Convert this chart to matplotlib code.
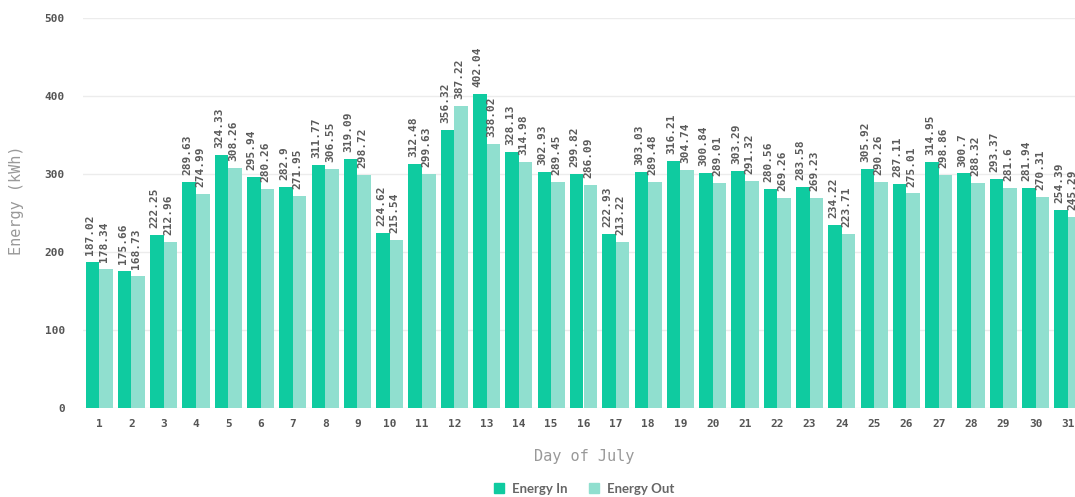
import matplotlib
matplotlib.use("Agg")
import matplotlib.pyplot as plt
from matplotlib.patches import Patch

# datos: energia diaria de julio
dias = list(range(1, 32))
energia_in = [187.02, 175.66, 222.25, 289.63, 324.33, 295.94, 282.9, 311.77, 319.09, 224.62,
              312.48, 356.32, 402.04, 328.13, 302.93, 299.82, 222.93, 303.03, 316.21, 300.84,
              303.29, 280.56, 283.58, 234.22, 305.92, 287.11, 314.95, 300.7, 293.37, 281.94,
              254.39]
energia_out = [178.34, 168.73, 212.96, 274.99, 308.26, 280.26, 271.95, 306.55, 298.72, 215.54,
               299.63, 387.22, 338.02, 314.98, 289.45, 286.09, 213.22, 289.48, 304.74, 289.01,
               291.32, 269.26, 269.23, 223.71, 290.26, 275.01, 298.86, 288.32, 281.6, 270.31,
               245.29]
y_ticks = [0, 100, 200, 300, 400, 500]

color_in = "#0fcba0"
color_out = "#90dfcf"
mono = "DejaVu Sans Mono"

W, H = 1075, 497
fig = plt.figure(figsize=(W / 100, H / 100), dpi=100)
ax = fig.add_axes([83 / W, (H - 408) / H, 1001 / W, 390 / H])

ancho = 0.42
x_in = [d - ancho / 2 for d in dias]
x_out = [d + ancho / 2 for d in dias]
ax.bar(x_in, energia_in, width=ancho, color=color_in, zorder=2)
ax.bar(x_out, energia_out, width=ancho, color=color_out, zorder=2)

# etiquetas de valores rotadas
for xs, vals in ((x_in, energia_in), (x_out, energia_out)):
    for x, v in zip(xs, vals):
        ax.annotate(f"{v:g}", xy=(x, v), xytext=(-1.5, 5), textcoords="offset points",
                    rotation=90, ha="center", va="bottom", fontsize=8, family=mono,
                    fontweight="bold", color="#5a5a5a", zorder=3)

ax.set_xlim(0.5, 31.5)
ax.set_ylim(0, 500)
ax.set_yticks(y_ticks)
ax.set_xticks(dias)
ax.set_xticklabels([str(d) for d in dias])
ax.tick_params(axis="both", length=0, labelsize=8, labelcolor="#555555")
ax.tick_params(axis="y", pad=13)
ax.tick_params(axis="x", pad=8)
for lab in ax.get_xticklabels() + ax.get_yticklabels():
    lab.set_family(mono)
    lab.set_fontweight("bold")

ax.grid(True, axis="y", color="#ececec", linewidth=1, zorder=0)
for s in ax.spines.values():
    s.set_visible(False)

fig.text(17 / W, 1 - 200 / H, "Energy (kWh)", rotation=90, ha="center", va="center",
         fontsize=11, family=mono, color="#999999")
fig.text(584 / W, 1 - 456 / H, "Day of July", ha="center", va="center",
         fontsize=11, family=mono, color="#999999")

handles = [Patch(color=color_in, label="Energy In"), Patch(color=color_out, label="Energy Out")]
leg = fig.legend(handles=handles, loc="center", bbox_to_anchor=(584 / W, 1 - 489 / H), ncol=2,
                 frameon=False, handlelength=0.8, handleheight=0.8, handletextpad=0.6,
                 columnspacing=1.6, prop={"family": "Lato", "weight": "bold", "size": 9.5})
for t in leg.get_texts():
    t.set_color("#666666")

fig.savefig("out.png", dpi=100)
